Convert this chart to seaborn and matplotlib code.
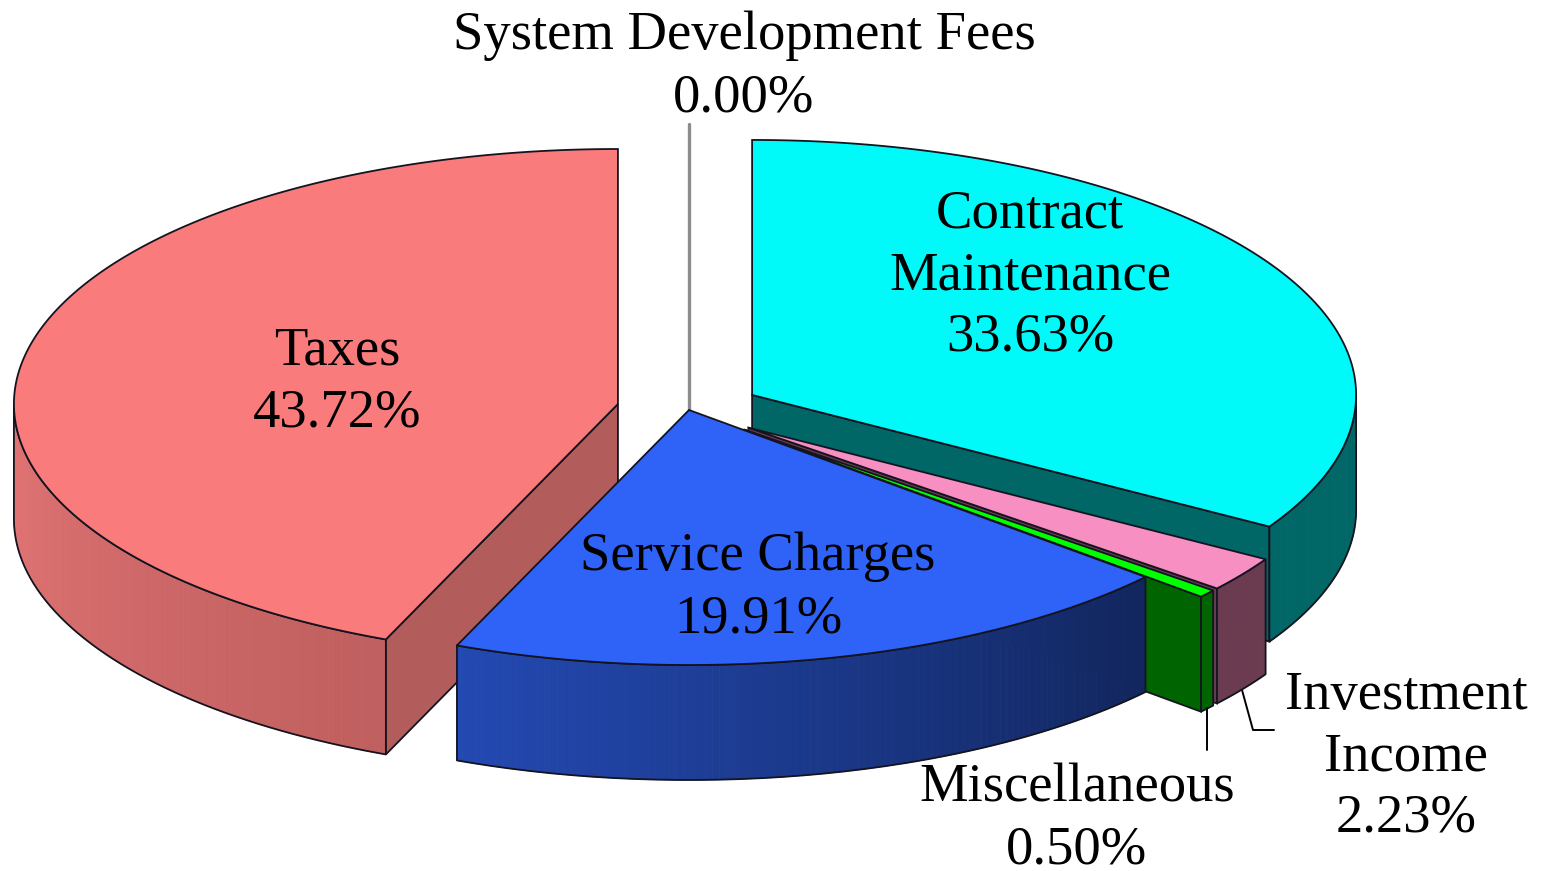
import numpy as np
import matplotlib
matplotlib.use("Agg")
import matplotlib.pyplot as plt
import seaborn as sns

# --- data ---
labels = ["System Development Fees", "Contract\nMaintenance", "Investment\nIncome",
          "Miscellaneous", "Service Charges", "Taxes"]
values = [0.00, 33.63, 2.23, 0.50, 19.91, 43.72]
explode = [0.0, 0.12, 0.12, 0.12, 0.0, 0.12]
top_colors = ["#808080", "#00FAFA", "#F78FC3", "#00FF00", "#2F62F7", "#F97B7B"]
wall_from = ["#808080", "#006666", "#6B3B50", "#006400", "#2349B2", "#E27474"]
wall_to = ["#808080", "#006666", "#6B3B50", "#006400", "#12265E", "#C05F5F"]
radial_colors = ["#808080", "#006666", "#6B3B50", "#006400", "#12265E", "#B35C5C"]
label_xy = [(744, 63), (1030, 272), (1406, 753), (1077, 815), (758, 584), (337, 378)]

# --- geometry of the projected pie ---
CX, CY, RX, RY, DEPTH = 689, 410, 604, 255, 115
EDGE = "#141420"
LW = 1.3

sns.set_theme(style="white")
plt.rcParams["font.family"] = ["Liberation Serif", "DejaVu Serif"]
fig = plt.figure(figsize=(15.45, 8.71), dpi=100)
ax = fig.add_axes([0, 0, 1, 1])
ax.set_xlim(0, 1545)
ax.set_ylim(871, 0)
ax.axis("off")

# slice angles, clockwise from 12 o'clock
fracs = np.array(values) / np.sum(values)
stops = 90 - 360 * np.concatenate([[0], np.cumsum(fracs)])


def pt(c, a):
    r = np.radians(a)
    return c[0] + RX * np.cos(r), c[1] - RY * np.sin(r)


def center(i):
    mid = np.radians((stops[i] + stops[i + 1]) / 2)
    return (CX + explode[i] * RX * np.cos(mid), CY - explode[i] * RY * np.sin(mid))


def draw_slice(i, z):
    a0, a1 = stops[i], stops[i + 1]
    c = center(i)
    # radial walls whose outward normal points towards the viewer
    for a, normal in ((a0, a0 + 90), (a1, a1 - 90)):
        if np.sin(np.radians(normal)) < 0:
            x, y = pt(c, a)
            ax.fill([c[0], x, x, c[0]], [c[1], y, y + DEPTH, c[1] + DEPTH],
                    fc=radial_colors[i], ec=EDGE, lw=LW, zorder=z)
    # outer wall (front half only), shaded strip by strip
    lo, hi = max(a1, -180), min(a0, 0)
    if hi > lo:
        n = max(2, int((hi - lo) * 1.5))
        ang = np.linspace(lo, hi, n + 1)
        pal = sns.blend_palette([wall_from[i], wall_to[i]], n)
        for k in range(n):
            x0, y0 = pt(c, ang[k])
            x1, y1 = pt(c, ang[k + 1])
            ax.fill([x0, x1, x1, x0], [y0, y1, y1 + DEPTH, y0 + DEPTH],
                    fc=pal[k], ec=pal[k], lw=0.6, zorder=z)
        xs, ys = pt(c, ang)
        ax.plot(np.r_[xs, xs[-1], xs[::-1], xs[0]],
                np.r_[ys, ys[-1] + DEPTH, (ys + DEPTH)[::-1], ys[0]],
                color=EDGE, lw=LW, zorder=z)
    # top face
    ang = np.linspace(a0, a1, max(2, int(abs(a0 - a1) * 2) + 1))
    xs, ys = pt(c, ang)
    ax.fill(np.r_[c[0], xs], np.r_[c[1], ys], fc=top_colors[i], ec=EDGE, lw=LW,
            zorder=z, joinstyle="miter")


for z, i in enumerate((5, 1, 2, 3, 4), start=1):
    draw_slice(i, z)

# leader lines
ax.plot([CX, CX], [124, CY], color="#8c8c8c", lw=2.4, zorder=1.5)
ax.plot([1207, 1207], [708, 750], color="black", lw=1.4, zorder=6)
ax.plot([1242, 1253, 1274], [690, 730, 730], color="black", lw=1.4, zorder=0.5)

# labels
for i, (x, y) in enumerate(label_xy):
    ax.text(x, y + 4, f"{labels[i]}\n{values[i]:.2f}%", ha="center", va="center",
            fontsize=39.3, color="black", linespacing=1.29, zorder=10)

fig.savefig("out.png", dpi=100, facecolor="white")
